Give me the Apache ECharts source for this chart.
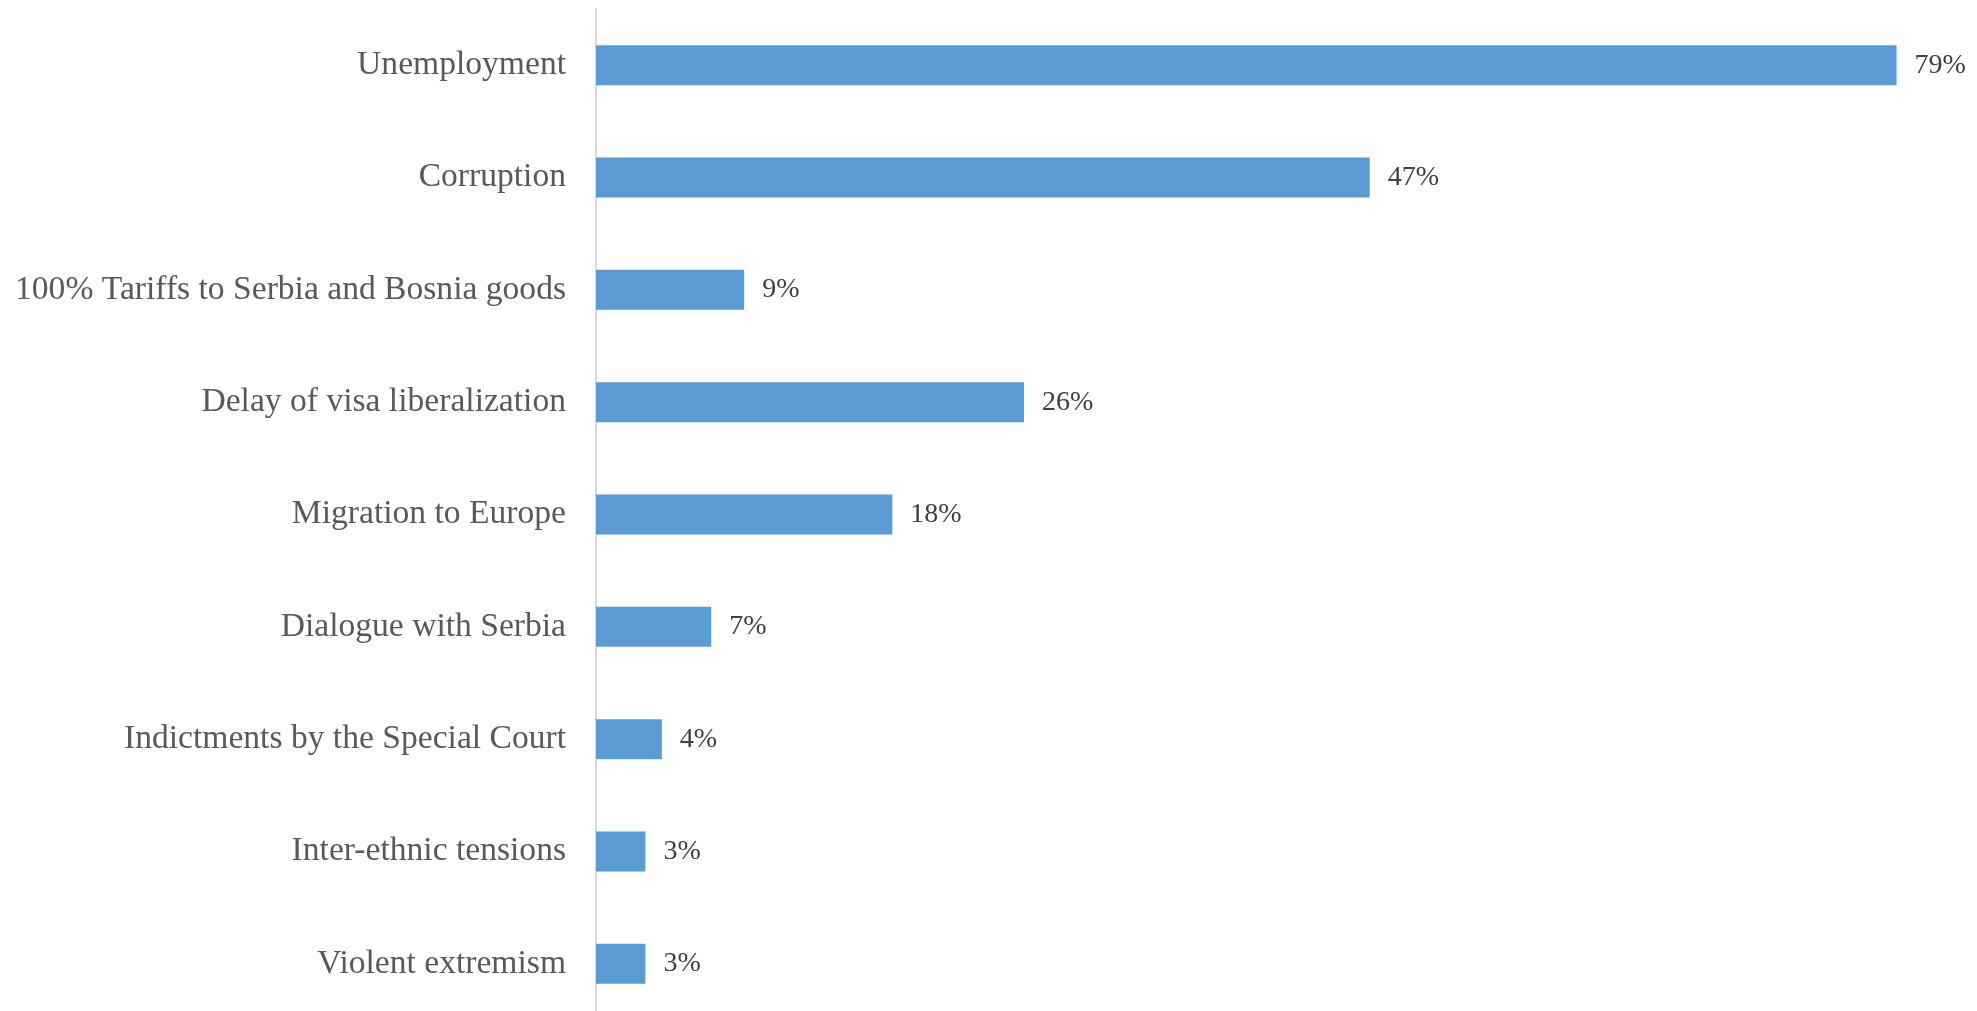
<!DOCTYPE html>
<html>
<head>
<meta charset="utf-8">
<script src="https://cdn.jsdelivr.net/npm/echarts@6/dist/echarts.min.js"></script>
<style>
  html, body { margin: 0; padding: 0; background: #ffffff; overflow: hidden; }
  /* the plot runs past the bottom edge of the window, so the last row keeps a full band */
  #chart { width: 1977px; height: 1040px; }
</style>
</head>
<body>
<div id="chart"></div>
<script>
// Problems named by respondents, share in percent
const categories = [
  'Unemployment',
  'Corruption',
  '100% Tariffs to Serbia and Bosnia goods',
  'Delay of visa liberalization',
  'Migration to Europe',
  'Dialogue with Serbia',
  'Indictments by the Special Court',
  'Inter-ethnic tensions',
  'Violent extremism'
];
const shares = [79, 47, 9, 26, 18, 7, 4, 3, 3];

const chart = echarts.init(document.getElementById('chart'), null, { renderer: 'canvas' });

chart.setOption({
  animation: false,
  backgroundColor: '#ffffff',
  grid: { left: 596, right: 64, top: 9, height: 1011, containLabel: false },
  xAxis: {
    type: 'value',
    min: 0,
    max: 80,
    show: false,
    splitLine: { show: false }
  },
  yAxis: {
    type: 'category',
    data: categories,
    inverse: true,
    axisTick: { show: false },
    axisLine: { show: true, lineStyle: { color: '#d9d9d9', width: 2 } },
    axisLabel: {
      margin: 30,
      color: '#595959',
      fontFamily: '"Liberation Serif", serif',
      fontSize: 33.6
    }
  },
  series: [{
    type: 'bar',
    data: shares,
    barWidth: 40,
    itemStyle: { color: '#5b9bd5' },
    label: {
      show: true,
      position: 'right',
      distance: 18,
      color: '#404040',
      fontFamily: '"Liberation Serif", serif',
      fontSize: 28,
      formatter: p => p.value + '%'
    }
  }]
});
</script>
</body>
</html>
